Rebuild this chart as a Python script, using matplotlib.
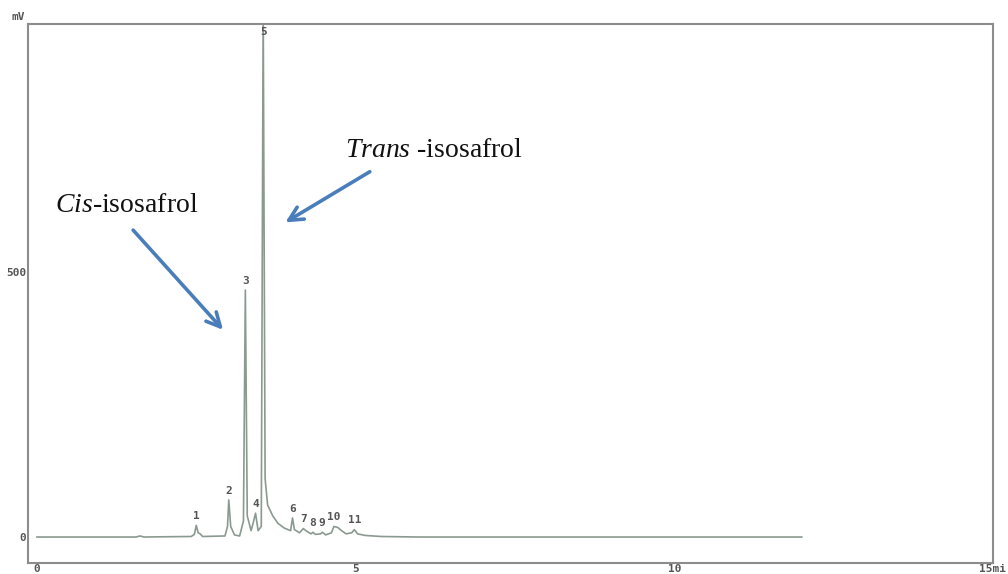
import matplotlib
matplotlib.use("Agg")
from matplotlib import pyplot as plt

# Chromatogram trace (time in min, signal in mV)
times = [0.0, 1.55, 1.62, 1.68, 2.0, 2.42, 2.47, 2.50, 2.53, 2.56, 2.60,
         2.95, 2.99, 3.01, 3.04, 3.10, 3.18, 3.24, 3.27, 3.30, 3.36, 3.40,
         3.43, 3.47, 3.52, 3.55, 3.58, 3.62, 3.70, 3.78, 3.88, 3.98, 4.01,
         4.04, 4.12, 4.18, 4.22, 4.30, 4.33, 4.37, 4.45, 4.48, 4.53, 4.62,
         4.66, 4.72, 4.78, 4.85, 4.94, 4.98, 5.03, 5.15, 5.40, 6.0, 12.0]
signal = [0, 0, 2, 0, 0.5, 1, 5, 22, 8, 6, 1,
          2, 20, 70, 20, 4, 2, 30, 466, 40, 12, 30,
          45, 12, 20, 1000, 110, 60, 40, 26, 17, 12, 36,
          14, 8, 16, 12, 6, 9, 5, 6, 9, 4, 8,
          20, 18, 12, 6, 8, 14, 6, 3, 1, 0, 0]

# Peak numbers and where they sit
peak_ids = ['1', '2', '3', '4', '5', '6', '7', '8', '9', '10', '11']
peak_rt = [2.50, 3.01, 3.27, 3.43, 3.55, 4.01, 4.19, 4.33, 4.47, 4.66, 4.98]
peak_top = [22, 70, 466, 45, 935, 36, 16, 10, 9, 20, 14]

y_ticks = [0, 500]
x_ticks = [0, 5, 10, 15]
x_ticklabels = ['0', '5', '10', '15mi']

plt.rcParams['mathtext.fontset'] = 'custom'
plt.rcParams['mathtext.rm'] = 'Liberation Serif'
plt.rcParams['mathtext.it'] = 'Liberation Serif:italic'

fig = plt.figure(figsize=(10.08, 5.74), dpi=100)
ax = fig.add_axes([28 / 1008, 11 / 574, 965 / 1008, 539 / 574])
ax.plot(times, signal, color='#8a9a90', lw=1.2)
ax.set_xlim(-0.14, 15.0)
ax.set_ylim(-49, 968)

for spine in ax.spines.values():
    spine.set_color('#8c8c8c')
    spine.set_linewidth(1.5)

lab_font = dict(family='DejaVu Sans Mono', fontsize=8, fontweight='bold',
                color='#555555')
ax.set_xticks(x_ticks)
ax.set_xticklabels(x_ticklabels, **lab_font)
ax.set_yticks(y_ticks)
ax.set_yticklabels([str(v) for v in y_ticks], **lab_font)
ax.tick_params(length=0, pad=1)
fig.text(12 / 1008, 1 - 17 / 574, 'mV', ha='left', va='center', **lab_font)

# peak numbers above each apex
for pid, rt, top in zip(peak_ids, peak_rt, peak_top):
    ax.annotate(pid, (rt, top), xytext=(0, 3), textcoords='offset points',
                ha='center', va='bottom', **lab_font)

# Annotations for the two isomers
blue = '#4a7ebb'
arrow = dict(arrowstyle='->,head_length=1.0,head_width=0.5', color=blue, lw=2.6)
ax.annotate('', xy=(2.95, 387), xytext=(1.48, 583), arrowprops=arrow)
ax.annotate('', xy=(3.86, 591), xytext=(5.26, 692), arrowprops=arrow)
ax.text(0.28, 626, r'$\mathit{Cis}$-isosafrol', fontsize=20,
        family='Liberation Serif', va='center', ha='left', color='#111111')
ax.text(4.83, 730, r'$\mathit{Trans}$ -isosafrol', fontsize=20,
        family='Liberation Serif', va='center', ha='left', color='#111111')

fig.savefig('out.png', dpi=100)
